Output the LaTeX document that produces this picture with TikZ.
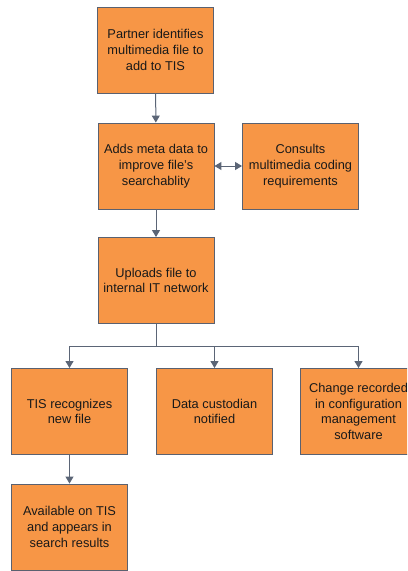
\documentclass[tikz,border=0pt]{standalone}
\usepackage{fontspec}
\setmainfont{Liberation Sans}
\usetikzlibrary{arrows.meta}
\definecolor{boxfill}{HTML}{F79646}
\definecolor{boxline}{HTML}{5A6170}
\definecolor{arrowcol}{HTML}{5B6576}
\tikzset{
  stepbox/.style={draw=boxline, line width=0.9bp, fill=boxfill, minimum width=116bp, minimum height=86bp, inner sep=0pt, align=center, font=\fontsize{12.8bp}{15.8bp}\selectfont, text=black!90},
  conn/.style={draw=arrowcol, line width=1bp, -{Triangle[width=8bp,length=7bp]}},
  dconn/.style={draw=arrowcol, line width=1bp, {Triangle[width=8bp,length=7bp]}-{Triangle[width=8bp,length=7bp]}},
  plain/.style={draw=arrowcol, line width=1bp}
}
\begin{document}
\begin{tikzpicture}[x=1bp,y=-1bp]
\useasboundingbox (0,0) rectangle (407,571);
\clip (0,0) rectangle (407,571);
\node[stepbox] (b1) at (155.5,50) {Partner identifies\\multimedia file to\\add to TIS};
\node[stepbox] (b2) at (156,166) {Adds meta data to\\improve file's\\searchablity};
\node[stepbox] (b3) at (300.5,166) {Consults\\multimedia coding\\requirements};
\node[stepbox] (b4) at (156,280.5) {Uploads file to\\internal IT network};
\node[stepbox] (b5) at (69.5,411.5) {TIS recognizes\\new file};
\node[stepbox] (b6) at (214.5,411.5) {Data custodian\\notified};
\node[stepbox] (b7) at (358.5,411.5) {Change recorded\\in configuration\\management\\software};
\node[stepbox] (b8) at (69.5,527) {Available on TIS\\and appears in\\search results};
\coordinate (j) at (156,346);
\draw[conn] (b1) -- (b2);
\draw[dconn] (b2) -- (b3);
\draw[conn] (b2) -- (b4);
\draw[plain] (b4.south) -- (j);
\draw[conn] (j) -| (b5.north);
\draw[conn] (j) -| (b6.north);
\draw[conn] (j) -| (b7.north);
\draw[conn] (b5) -- (b8);
\end{tikzpicture}
\end{document}
